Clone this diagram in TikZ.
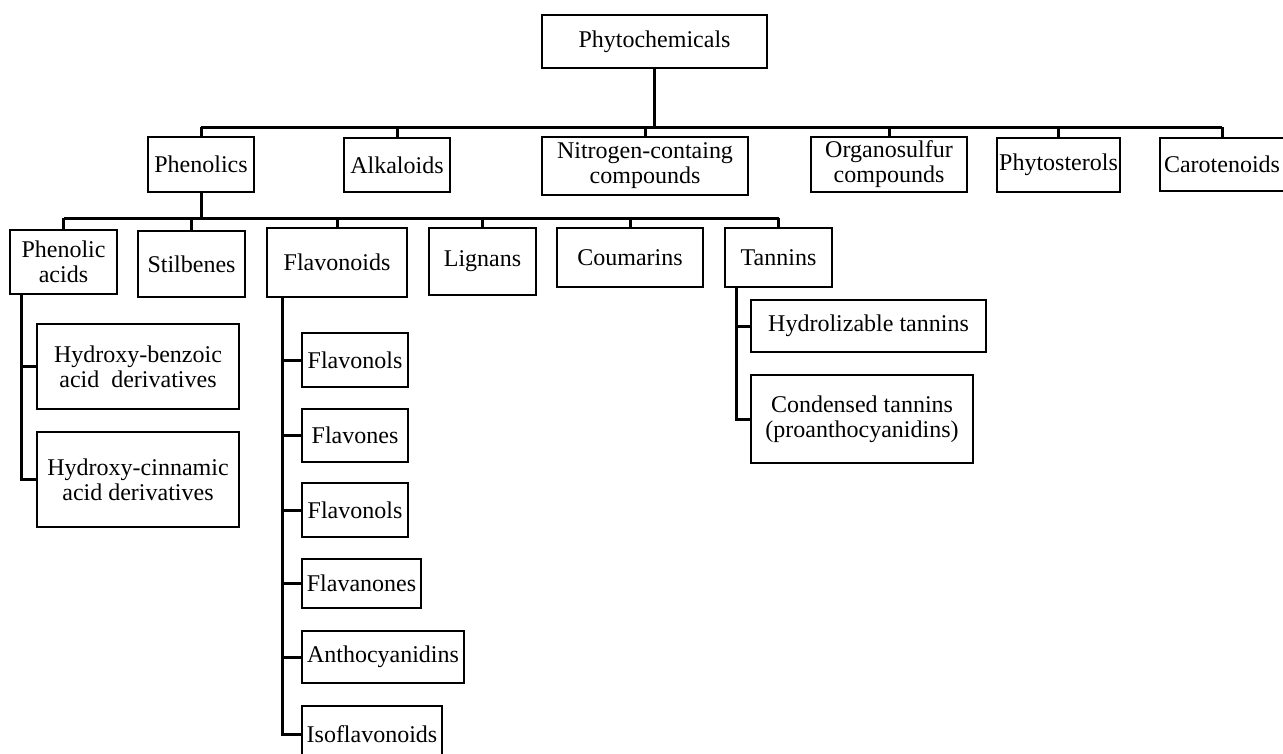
\documentclass[tikz,border=0pt]{standalone}
\usepackage{fontspec}
\setmainfont{Liberation Serif}
\begin{document}
\begin{tikzpicture}[x=1pt,y=-1pt,
  box/.style={draw=black,line width=2.6pt,rectangle,inner sep=0pt,align=center,
    font=\fontsize{24}{25}\selectfont},
  conn/.style={draw=black,line width=3pt},
  mainconn/.style={draw=black,line width=3.8pt}]
\useasboundingbox (0,0) rectangle (1283,753);
% level 0
\node[box,minimum width=225pt,minimum height=53pt] (ph) at (654.5,41.5) {Phytochemicals};
% level 1
\node[box,minimum width=106pt,minimum height=55pt] (phen) at (201,164.5) {Phenolics};
\node[box,minimum width=106pt,minimum height=54pt] (alk) at (397,165) {Alkaloids};
\node[box,minimum width=206pt,minimum height=58pt] (nit) at (645,166) {Nitrogen-containg\\compounds};
\node[box,minimum width=156pt,minimum height=55pt] (org) at (889,164.5) {Organosulfur\\compounds};
\node[box,minimum width=123pt,minimum height=54pt] (phy) at (1058.5,165) {Phytosterols};
\node[box,minimum width=124pt,minimum height=53pt] (car) at (1222,164.5) {Carotenoids};
% level 2
\node[box,minimum width=107pt,minimum height=64pt] (pa) at (63.5,262) {Phenolic\\acids};
\node[box,minimum width=107pt,minimum height=66pt] (stil) at (191.5,264) {Stilbenes};
\node[box,minimum width=140pt,minimum height=69pt] (flav) at (337,262.5) {Flavonoids};
\node[box,minimum width=107pt,minimum height=67pt] (lig) at (482.5,261.5) {Lignans};
\node[box,minimum width=146pt,minimum height=59pt] (cou) at (630,257.5) {Coumarins};
\node[box,minimum width=107pt,minimum height=59pt] (tan) at (778.5,257.5) {Tannins};
% phenolic acids children
\node[box,minimum width=202pt,minimum height=85pt] (hb) at (138,366.5) {Hydroxy-benzoic\\acid~~derivatives};
\node[box,minimum width=202pt,minimum height=95pt] (hc) at (138,479.5) {Hydroxy-cinnamic\\acid derivatives};
% flavonoid children
\node[box,minimum width=106pt,minimum height=54pt] (fl1) at (355,360) {Flavonols};
\node[box,minimum width=106pt,minimum height=53pt] (fl2) at (355,435.5) {Flavones};
\node[box,minimum width=106pt,minimum height=54pt] (fl3) at (355,510) {Flavonols};
\node[box,minimum width=119pt,minimum height=49pt] (fl4) at (361.5,583.5) {Flavanones};
\node[box,minimum width=162pt,minimum height=52pt] (fl5) at (383,657) {Anthocyanidins};
\node[box,minimum width=140pt,minimum height=56pt] (fl6) at (372,734) {Isoflavonoids};
% tannin children
\node[box,minimum width=235pt,minimum height=52pt] (ht) at (868.5,326) {Hydrolizable tannins};
\node[box,minimum width=222pt,minimum height=88pt] (ct) at (862,419) {Condensed tannins\\(proanthocyanidins)};
% bus coordinates
\coordinate (b1) at (0,127);
\coordinate (b2) at (0,218);
\coordinate (pv) at (21,294);
\coordinate (fv) at (282,297);
\coordinate (tv) at (736,287);
% level 0 -> 1
\draw[mainconn] (ph.south) -- (ph.south |- b1);
\draw[conn] (phen.north |- b1) -- (car.north |- b1);
\foreach \n in {phen,alk,nit,org,phy,car} \draw[conn] (\n.north |- b1) -- (\n.north);
% level 1 -> 2
\draw[conn] (phen.south) -- (phen.south |- b2);
\draw[conn] (pa.north |- b2) -- (tan.north |- b2);
\foreach \n in {pa,stil,flav,lig,cou,tan} \draw[conn] (\n.north |- b2) -- (\n.north);
% phenolic acids
\draw[conn] (pv) |- (hc.west);
\draw[conn] (pv |- hb.west) -- (hb.west);
% flavonoids
\draw[conn] (fv) |- (fl6.west);
\foreach \n in {fl1,fl2,fl3,fl4,fl5} \draw[conn] (fv |- \n.west) -- (\n.west);
% tannins
\draw[conn] (tv) |- (ct.west);
\draw[conn] (tv |- ht.west) -- (ht.west);
\end{tikzpicture}
\end{document}
